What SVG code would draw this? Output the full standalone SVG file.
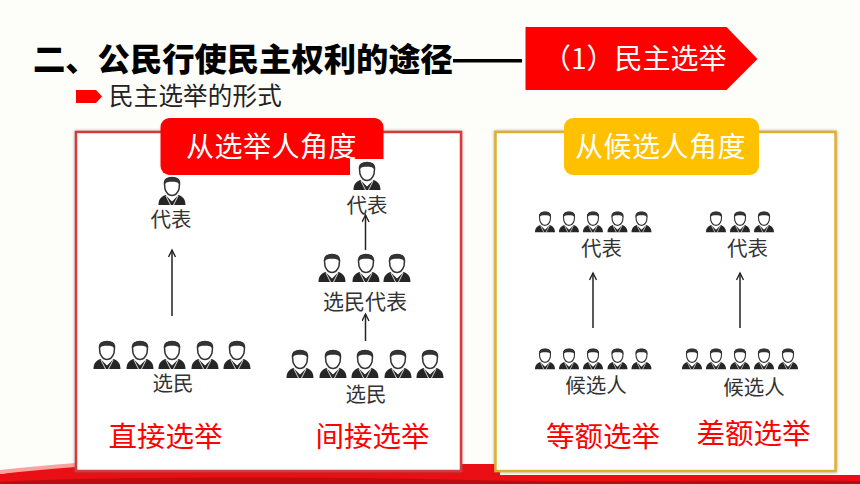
<svg xmlns="http://www.w3.org/2000/svg" xmlns:xlink="http://www.w3.org/1999/xlink" width="860" height="484" viewBox="0 0 860 484">
<style>
text{font-family:"Noto Sans CJK SC","Noto Sans",sans-serif}
.t{font-size:20.5px;fill:#333;text-anchor:middle}
.r{font-size:28.5px;fill:#f00;text-anchor:middle}
.h{font-size:28px;fill:#fff;letter-spacing:.5px}
.c{fill:none;stroke:#222;stroke-width:1.5;marker-end:url(#a)}
</style>
<defs>
<marker id="a" markerUnits="userSpaceOnUse" markerWidth="10" markerHeight="8" refX="8" refY="4" orient="auto"><path d="M1 .5L8 4L1 7.5" fill="none" stroke="#222" stroke-width="1.4"/></marker>
<filter id="s" x="-3%" y="-3%" width="106%" height="106%"><feDropShadow dx="0" dy="0" stdDeviation="1.5" flood-color="#555" flood-opacity=".6"/></filter>
<symbol id="p" viewBox="0 0 27 28" overflow="visible">
<path d="M0 28C0 22 3 19.500 7 18L13.500 24.500L20 18C24 19.500 27 22 27 28Z" fill="#262626"/>
<path d="M7.500 19L12 28M19.500 19L15 28" stroke="#ddd" stroke-width="1" fill="none"/>
<path d="M6 7C5.500 2 9.500 .5 13.500 .5S21.500 2 21 7L20.500 12C19 16.500 16 18.500 13.500 18.500S8 16.500 6.500 12Z" fill="#fff" stroke="#333" stroke-width="1.500"/>
<path d="M5.800 8C5 2 9.500 .3 13.500 .3S22 2 21.200 8C19.500 5 17 4.800 13.500 4.800S7.500 5 5.800 8Z" fill="#333"/>
</symbol>
</defs>
<rect width="860" height="484" fill="#fdfdf9"/>
<g id="swoosh">
<path d="M0 474C30 469 55 466 80 464L500 464V475L860 475V484H0Z" fill="#ea0f14"/>
<path d="M0 482C120 476 330 477 470 480C600 483 760 479 860 481V484H0Z" fill="#b90d10"/>
<path d="M0 470C25 467 50 465 76 463V467C50 469 25 471 0 474Z" fill="#f7a3a0"/>
</g>
<g id="panel-left"><rect x="76" y="132" width="385" height="339" fill="#fff" stroke="#d53a3a" stroke-width="2.500" filter="url(#s)"/></g>
<g id="panel-right"><rect x="495.500" y="132" width="340" height="339" fill="#fff" stroke="#dfb02f" stroke-width="2.500" filter="url(#s)"/></g>
<g id="title"><text x="33" y="71" font-size="32.300" font-weight="900" fill="#000">二、公民行使民主权利的途径</text><rect x="453" y="59" width="69" height="3.500" fill="#000"/></g>
<g id="banner"><path d="M525.500 27H726.500L757.500 59L726.500 90H525.500Z" fill="#f00"/><text x="543" y="69" font-size="28" fill="#fff">（1）民主选举</text></g>
<g id="subtitle"><path d="M76 90H96L102 96.500L96 103H76Z" fill="#f00"/><text x="109" y="105" font-size="24.500" letter-spacing=".2" fill="#222">民主选举的形式</text></g>
<g id="label-voter"><rect x="160.500" y="118" width="223" height="57" rx="9" fill="#f00"/><text class="h" x="186" y="157">从选举人角度</text></g>
<g id="label-candidate"><rect x="564" y="118" width="195" height="57" rx="9" fill="#ffc000"/><text class="h" x="575" y="157">从候选人角度</text></g>
<g id="connectors">
<path class="c" d="M172 316V250"/>
<path class="c" d="M365.500 250V215"/>
<path class="c" d="M365.500 341V314"/>
<path class="c" d="M593 328V273"/>
<path class="c" d="M740 328V273"/>
</g>
<g id="n-direct-rep"><use href="#p" x="158.500" y="177" width="27" height="28"/><text class="t" x="171" y="227">代表</text></g>
<g id="n-direct-voters">
<use href="#p" x="93.500" y="341" width="27" height="28"/><use href="#p" x="126.500" y="341" width="27" height="28"/><use href="#p" x="158.500" y="341" width="27" height="28"/><use href="#p" x="191.500" y="341" width="27" height="28"/><use href="#p" x="223.500" y="341" width="27" height="28"/>
<text class="t" x="173" y="391">选民</text></g>
<g id="n-indirect-rep"><rect x="350" y="159" width="34" height="17" fill="#fff"/><use href="#p" x="353.500" y="162" width="27" height="28"/><text class="t" x="367" y="213">代表</text></g>
<g id="n-indirect-mid">
<use href="#p" x="318.500" y="254" width="27" height="28"/><use href="#p" x="352.500" y="254" width="27" height="28"/><use href="#p" x="383.500" y="254" width="27" height="28"/>
<text class="t" x="365" y="309" style="font-size:21px">选民代表</text></g>
<g id="n-indirect-voters">
<use href="#p" x="286.500" y="350" width="27" height="28"/><use href="#p" x="319.500" y="350" width="27" height="28"/><use href="#p" x="351.500" y="350" width="27" height="28"/><use href="#p" x="384.500" y="350" width="27" height="28"/><use href="#p" x="416.500" y="350" width="27" height="28"/>
<text class="t" x="366" y="402">选民</text></g>
<g id="n-equal-rep">
<use href="#p" x="535" y="210" width="20" height="24"/><use href="#p" x="559" y="210" width="20" height="24"/><use href="#p" x="583" y="210" width="20" height="24"/><use href="#p" x="607.500" y="210" width="20" height="24"/><use href="#p" x="631.500" y="210" width="20" height="24"/>
<text class="t" x="601.500" y="256">代表</text></g>
<g id="n-equal-cand">
<use href="#p" x="535" y="347" width="20" height="24"/><use href="#p" x="559" y="347" width="20" height="24"/><use href="#p" x="583" y="347" width="20" height="24"/><use href="#p" x="607.500" y="347" width="20" height="24"/><use href="#p" x="631.500" y="347" width="20" height="24"/>
<text class="t" x="596" y="393">候选人</text></g>
<g id="n-diff-rep">
<use href="#p" x="706" y="210" width="20" height="24"/><use href="#p" x="730" y="210" width="20" height="24"/><use href="#p" x="754" y="210" width="20" height="24"/>
<text class="t" x="747.500" y="256">代表</text></g>
<g id="n-diff-cand">
<use href="#p" x="682" y="347" width="20" height="24"/><use href="#p" x="706" y="347" width="20" height="24"/><use href="#p" x="730" y="347" width="20" height="24"/><use href="#p" x="754" y="347" width="20" height="24"/><use href="#p" x="778" y="347" width="20" height="24"/>
<text class="t" x="754" y="395">候选人</text></g>
<g id="result-labels">
<text class="r" x="165.500" y="447">直接选举</text>
<text class="r" x="372.500" y="447">间接选举</text>
<text class="r" x="603" y="447">等额选举</text>
<text class="r" x="753.500" y="444">差额选举</text>
</g>
</svg>
